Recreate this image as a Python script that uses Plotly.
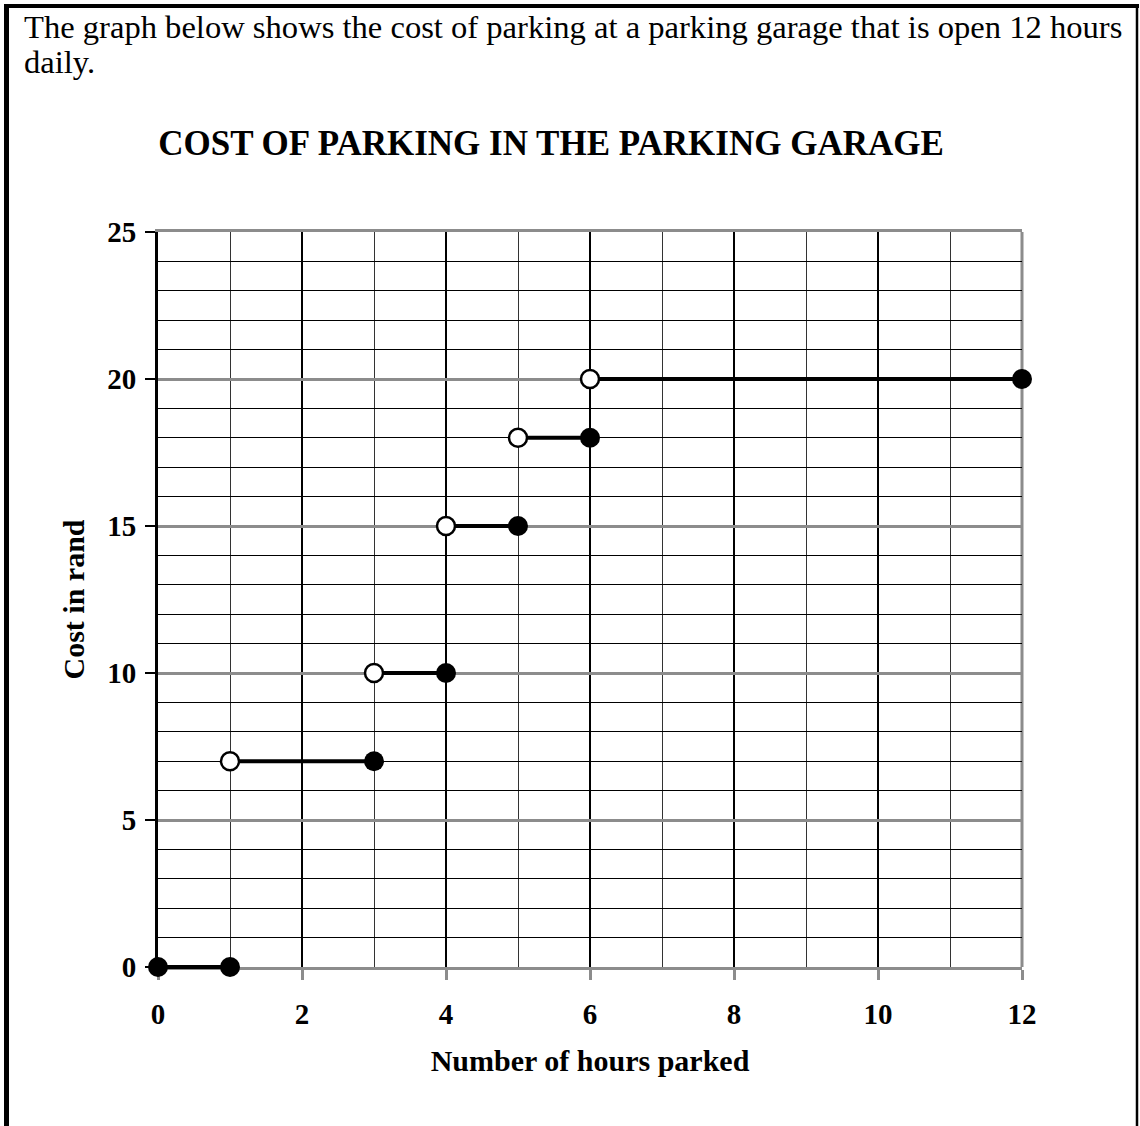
import plotly.graph_objects as go

# ---- data ----
seg_start = [0, 1, 3, 4, 5, 6]
seg_end = [1, 3, 4, 5, 6, 12]
seg_cost = [0, 7, 10, 15, 18, 20]
closed_x = [0, 1, 3, 4, 5, 6, 12]
closed_y = [0, 0, 7, 10, 15, 18, 20]
open_x = [1, 3, 4, 5, 6]
open_y = [7, 10, 15, 18, 20]
x_ticks = [0, 2, 4, 6, 8, 10, 12]
y_ticks = [0, 5, 10, 15, 20, 25]

intro_line1 = "The graph below shows the cost of parking at a parking garage that is open 12 hours"
intro_line2 = "daily."
chart_title = "COST OF PARKING IN THE PARKING GARAGE"
x_title = "Number of hours parked"
y_title = "Cost in rand"

X_RANGE = [0, 12]
Y_RANGE = [0, 25]

# ---- layout geometry (pixels) ----
W, H = 1140, 1126
L, R, T = 158, 118, 232
PLOT_BOTTOM = 967          # pixel row of y = 0
EXTRA = 20                 # room below the axis so the y=0 segment is not clipped
B = H - PLOT_BOTTOM - EXTRA
PW = W - L - R
PH_ALL = H - T - B
PH = PLOT_BOTTOM - T       # height of the drawn chart area
unit = PH / (Y_RANGE[1] - Y_RANGE[0])


def fx(p):
    return (p - L) / PW


def fy(p):
    return (H - B - p) / PH_ALL


SERIF = "Liberation Serif, Times New Roman, serif"
GRAY = "#8c8c8c"

line_x, line_y = [], []
for s, e, c in zip(seg_start, seg_end, seg_cost):
    line_x += [s, e, None]
    line_y += [c, c, None]

fig = go.Figure()
# carrier trace (transparent) so the main x/y subplot with its grid and axes is drawn
fig.add_trace(go.Scatter(x=closed_x, y=closed_y, mode="markers", xaxis="x", yaxis="y",
                         marker=dict(size=1, opacity=0), hoverinfo="skip",
                         showlegend=False))
# visible marks live on the x2/y2 subplot, which shares the same pixel scale
fig.add_trace(go.Scatter(x=line_x, y=line_y, mode="lines", xaxis="x2", yaxis="y2",
                         line=dict(color="black", width=4),
                         hoverinfo="skip", showlegend=False))
fig.add_trace(go.Scatter(x=closed_x, y=closed_y, mode="markers", xaxis="x2", yaxis="y2",
                         marker=dict(size=20, color="black", line=dict(width=0)),
                         showlegend=False, cliponaxis=False))
fig.add_trace(go.Scatter(x=open_x, y=open_y, mode="markers", xaxis="x2", yaxis="y2",
                         marker=dict(size=18, color="white",
                                     line=dict(width=2.5, color="black")),
                         showlegend=False, cliponaxis=False))

y_domain_start = EXTRA / PH_ALL

fig.update_layout(
    xaxis=dict(
        domain=[0, 1], anchor="y",
        range=X_RANGE, tickmode="array", tickvals=x_ticks,
        ticktext=[str(v) for v in x_ticks],
        ticks="outside", ticklen=10, tickwidth=3, tickcolor=GRAY,
        ticklabelstandoff=9,
        showline=True, linecolor=GRAY, linewidth=3, mirror=True,
        showgrid=True, gridcolor="black", gridwidth=2,
        minor=dict(tickmode="linear", tick0=0, dtick=1, showgrid=True,
                   gridcolor="#333333", gridwidth=1, ticks=""),
        zeroline=False, layer="below traces", fixedrange=True,
        tickfont=dict(family=SERIF, size=29, color="black", weight="bold"),
        title=dict(text=x_title, standoff=22,
                   font=dict(family=SERIF, size=30, color="black", weight="bold")),
    ),
    yaxis=dict(
        domain=[y_domain_start, 1], anchor="x",
        range=Y_RANGE, tickmode="array", tickvals=y_ticks,
        ticktext=[str(v) for v in y_ticks],
        ticks="outside", ticklen=10, tickwidth=2, tickcolor="black",
        ticklabelstandoff=3,
        showline=True, linecolor="black", linewidth=3, mirror=False,
        showgrid=True, gridcolor=GRAY, gridwidth=3,
        minor=dict(tickmode="linear", tick0=0, dtick=1, showgrid=True,
                   gridcolor="black", gridwidth=1, ticks=""),
        zeroline=False, layer="below traces", fixedrange=True,
        tickfont=dict(family=SERIF, size=29, color="black", weight="bold"),
        title=dict(text=y_title, standoff=14,
                   font=dict(family=SERIF, size=30, color="black", weight="bold")),
    ),
    xaxis2=dict(domain=[0, 1], anchor="y2", range=X_RANGE, visible=False,
                showgrid=False, zeroline=False, fixedrange=True),
    yaxis2=dict(domain=[0, 1], anchor="x2",
                range=[Y_RANGE[0] - EXTRA / unit, Y_RANGE[1]], visible=False,
                showgrid=False, zeroline=False, fixedrange=True),
)

shapes = [
    # right border of the plot area (gray)
    dict(type="line", xref="x domain", yref="y domain", x0=1, x1=1, y0=0, y1=1,
         line=dict(color=GRAY, width=3), layer="below"),
    # outer frame of the question box
    dict(type="line", xref="paper", yref="paper", x0=fx(6.5), x1=fx(6.5),
         y0=fy(4), y1=fy(H + 10), line=dict(color="black", width=5), layer="above"),
    dict(type="line", xref="paper", yref="paper", x0=fx(4), x1=fx(1139),
         y0=fy(6), y1=fy(6), line=dict(color="black", width=4), layer="above"),
    dict(type="line", xref="paper", yref="paper", x0=fx(1137), x1=fx(1137),
         y0=fy(4), y1=fy(H + 10), line=dict(color="black", width=2.5), layer="above"),
]

annotations = [
    dict(text=intro_line1, xref="paper", yref="paper", x=fx(22), y=fy(27),
         xanchor="left", yanchor="middle", showarrow=False,
         font=dict(family=SERIF, size=32.6, color="black")),
    dict(text=intro_line2, xref="paper", yref="paper", x=fx(22), y=fy(62),
         xanchor="left", yanchor="middle", showarrow=False,
         font=dict(family=SERIF, size=32.6, color="black")),
]

fig.update_layout(
    width=W, height=H,
    margin=dict(l=L, r=R, t=T, b=B, pad=0),
    paper_bgcolor="white", plot_bgcolor="rgba(0,0,0,0)",
    title=dict(text=chart_title, xref="paper", x=fx(551), xanchor="center",
               yref="container", y=1 - 143 / H, yanchor="middle",
               font=dict(family=SERIF, size=35, color="black", weight="bold")),
    shapes=shapes, annotations=annotations,
    showlegend=False,
)

fig.write_html("out.html",
               config={"displayModeBar": False},
               post_script="document.body.style.margin='0';document.body.style.overflow='hidden';")
